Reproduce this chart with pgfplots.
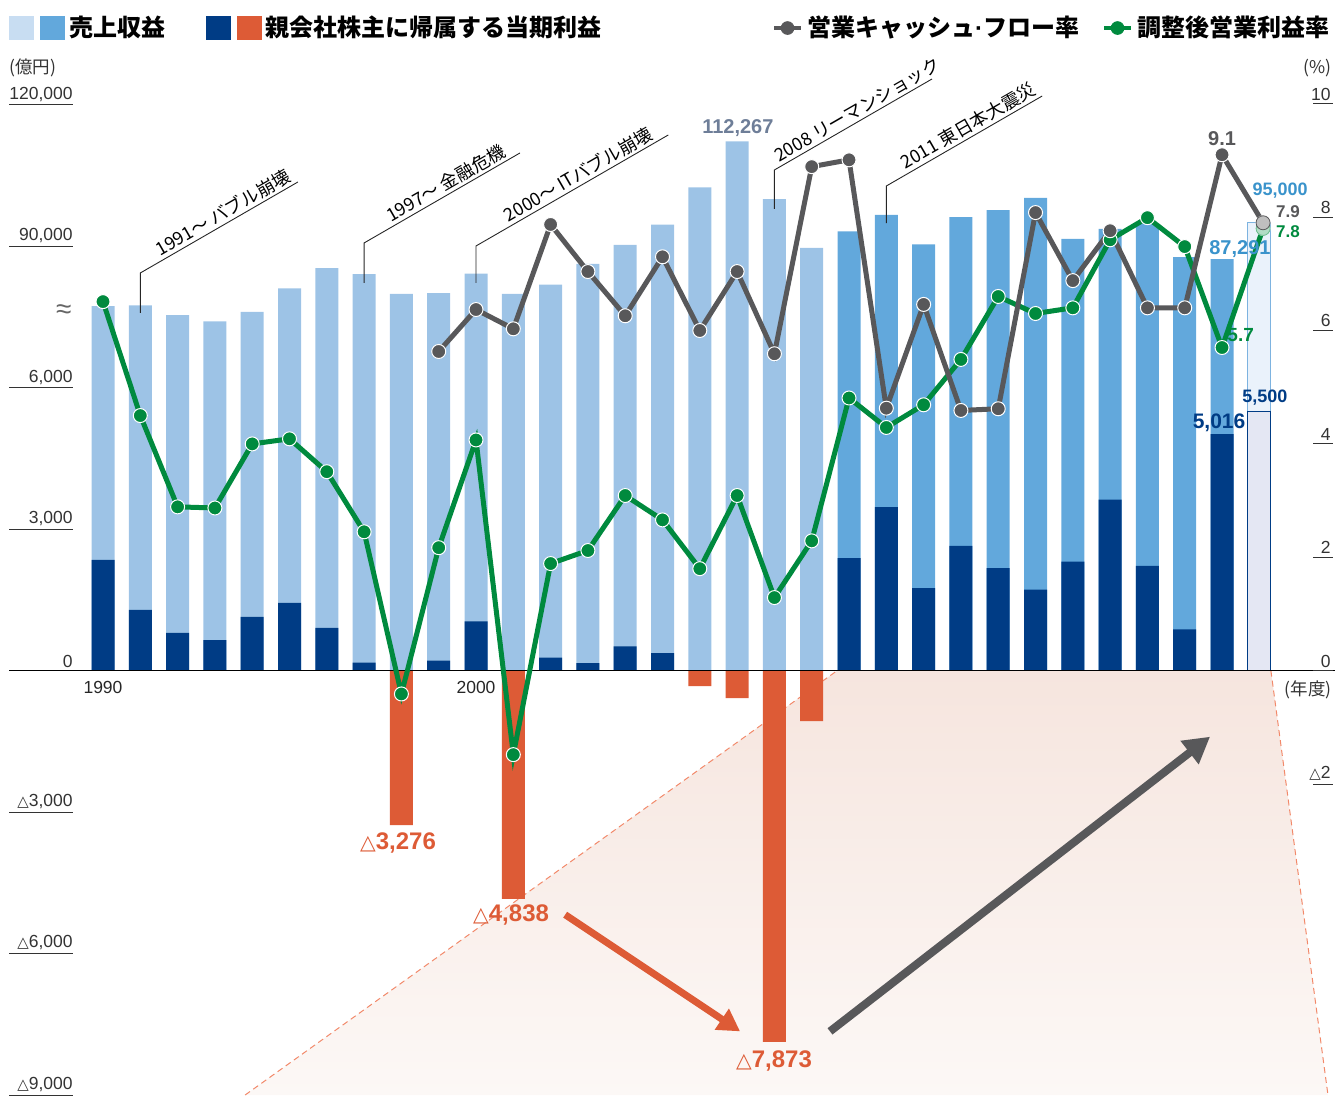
\documentclass[border=0pt]{standalone}
\usepackage{pgfplots}
\usepackage{pgfplotstable}
\pgfplotsset{compat=1.18}
\usetikzlibrary{arrows.meta}
\usepackage{fontspec}
\setmainfont{Liberation Sans}
\newfontfamily\jp{Noto Sans CJK JP}
\newfontfamily\dv{DejaVu Sans}
\newcommand{\tri}{{\dv\fontsize{0.85em}{1em}\selectfont △}}

\definecolor{revL}{HTML}{9DC3E6}
\definecolor{revM}{HTML}{62A8DC}
\definecolor{revF}{HTML}{EAF2FB}
\definecolor{revFo}{HTML}{7DB3E0}
\definecolor{navy}{HTML}{003C85}
\definecolor{orng}{HTML}{DD5B36}
\definecolor{profF}{HTML}{E4E7F3}
\definecolor{gline}{HTML}{58585A}
\definecolor{grn}{HTML}{008A3E}
\definecolor{legL}{HTML}{C8DDF2}
\definecolor{tickc}{HTML}{333333}
\definecolor{slate}{HTML}{6E7E98}
\definecolor{lblue}{HTML}{3A93CB}
\definecolor{shadeT}{HTML}{F6E5DE}
\definecolor{shadeB}{HTML}{FCF8F6}
\definecolor{dashc}{HTML}{F2896A}

\pgfplotstableread{
year rev
1990 77300
1991 77500
1992 75400
1993 74100
1994 76100
1995 81100
1996 85400
1997 84100
1998 79900
1999 80100
2000 84200
2001 79900
2002 81900
2003 86300
2004 90300
2005 94600
2006 102500
2007 112267
2008 100000
2009 89700
2010 93200
2011 96700
2012 90400
2013 96200
2014 97700
2015 100300
2016 91600
2017 93700
2018 94800
2019 87700
2020 87291
2021 95000
}\revtab

\pgfplotstableread{
year prof
1990 2350
1991 1290
1992 800
1993 650
1994 1140
1995 1440
1996 910
1997 170
1998 -3276
1999 212
2000 1044
2001 -4838
2002 279
2003 159
2004 515
2005 373
2006 -328
2007 -581
2008 -7873
2009 -1069
2010 2388
2011 3471
2012 1753
2013 2649
2014 2174
2015 1721
2016 2312
2017 3629
2018 2225
2019 875
2020 5016
2021 5500
}\proftab

\pgfplotstableread{
year cf
1999 5.63
2000 6.37
2001 6.03
2002 7.87
2003 7.04
2004 6.26
2005 7.30
2006 6.00
2007 7.04
2008 5.59
2009 8.89
2010 9.01
2011 4.63
2012 6.46
2013 4.59
2014 4.62
2015 8.08
2016 6.88
2017 7.76
2018 6.40
2019 6.40
2020 9.1
2021.1 7.9
}\cftab

\pgfplotstableread{
year op
1990 6.51
1991 4.50
1992 2.89
1993 2.87
1994 4.00
1995 4.09
1996 3.51
1997 2.45
1998 -0.41
1999 2.17
2000 4.07
2001 -1.48
2002 1.89
2003 2.12
2004 3.09
2005 2.66
2006 1.80
2007 3.09
2008 1.29
2009 2.29
2010 4.81
2011 4.29
2012 4.69
2013 5.49
2014 6.60
2015 6.30
2016 6.40
2017 7.60
2018 7.99
2019 7.48
2020 5.7
2021.1 7.8
}\optab

\begin{document}
\begin{tikzpicture}
\begin{axis}[
  name=main,
  scale only axis, width=667.5pt, height=547.5pt,
  xmin=1987.2386, xmax=2023.029,
  ymin=-9000, ymax=14225,
  clip=false,
  scaled x ticks=false, scaled y ticks=false,
  axis x line*=middle, axis y line*=left,
  axis line style={draw=none},
  major tick length=0pt,
  xtick={1990,2000,2010,2020},
  xticklabels={1990,2000,2010,2020},
  xticklabel style={font=\fontsize{8.75pt}{10pt}\selectfont, text=black!85, yshift=-2pt},
  ytick={-9000,-6000,-3000,0,3000,6000,9000,12000},
  yticklabels={{\tri 9,000},{\tri 6,000},{\tri 3,000},{0},{3,000},{6,000},{90,000},{120,000}},
  yticklabel style={anchor=south east, inner sep=0pt, xshift=36.5pt, yshift=1.5pt, font=\fontsize{8.75pt}{10pt}\selectfont, text=tickc},
  legend style={at={(axis description cs:0.0067,0.9744)}, anchor=west, draw=none, fill=none, inner sep=0pt,
    font=\jp\bfseries\fontsize{12pt}{14pt}\selectfont, legend columns=2,
    /tikz/every even column/.append style={column sep=18.5pt}},
  legend cell align=left,
]
\addlegendimage{legend image code/.code={
  \fill[legL] (0pt,-5.75pt) rectangle (12pt,5.75pt);
  \fill[revM] (15.5pt,-5.75pt) rectangle (27.5pt,5.75pt);}}
\addlegendentry{売上収益}
\addlegendimage{legend image code/.code={
  \fill[navy] (0pt,-5.75pt) rectangle (12pt,5.75pt);
  \fill[orng] (15.5pt,-5.75pt) rectangle (27.5pt,5.75pt);}}
\addlegendentry{親会社株主に帰属する当期利益}

% zoom shading
\shade[top color=shadeT, bottom color=shadeB] (axis cs:1993.81,-9000) -- (axis cs:2009.68,0) -- (axis cs:2021.31,0) -- (axis cs:2022.84,-9000) -- cycle;
\draw[dashc, line width=0.5pt, dash pattern=on 3pt off 2pt] (axis cs:1993.81,-9000) -- (axis cs:2009.68,0);
\draw[dashc, line width=0.5pt, dash pattern=on 3pt off 2pt] (axis cs:2021.31,0) -- (axis cs:2022.84,-9000);

% revenue bars (plotted at 1/10 scale)
\addplot[ybar, bar width=11.5pt, bar shift=0pt, fill=revL, draw=none, forget plot,
  restrict x to domain=1989.5:2009.5] table[x=year, y expr=\thisrow{rev}/10] {\revtab};
\addplot[ybar, bar width=11.5pt, bar shift=0pt, fill=revM, draw=none, forget plot,
  restrict x to domain=2009.5:2020.5] table[x=year, y expr=\thisrow{rev}/10] {\revtab};
\addplot[ybar, bar width=11.5pt, bar shift=0pt, fill=revF, draw=revFo, line width=0.6pt, forget plot,
  restrict x to domain=2020.5:2021.5] table[x=year, y expr=\thisrow{rev}/10] {\revtab};

% profit bars
\addplot[ybar, bar width=11.5pt, bar shift=0pt, fill=navy, draw=none, forget plot,
  restrict x to domain=1989.5:2020.5, restrict y to domain=0:100000] table[x=year, y=prof] {\proftab};
\addplot[ybar, bar width=11.5pt, bar shift=0pt, fill=orng, draw=none, forget plot,
  restrict y to domain=-100000:0] table[x=year, y=prof] {\proftab};
\addplot[ybar, bar width=11.5pt, bar shift=0pt, fill=profF, draw=navy, line width=0.6pt, forget plot,
  restrict x to domain=2020.5:2021.5] table[x=year, y=prof] {\proftab};

% zero line
\draw[black, line width=0.6pt] (axis cs:1987.48,0) -- (axis cs:2023.029,0);

% left tick underlines
\pgfplotsinvokeforeach{-9000,-6000,-3000,3000,6000,9000,12000}{
  \draw[tickc, line width=0.5pt] (axis cs:1987.48,#1) -- (axis cs:1989.196,#1);
}

% event annotations
\tikzset{evt/.style={black!85, line width=0.45pt}, evtxt/.style={pos=0.56, sloped, above, inner sep=1.2pt, font=\jp\fontsize{9pt}{10pt}\selectfont, text=black}}
\draw[evt] (axis cs:1991,7587) -- (axis cs:1991,8435) -- ++(30:91pt) node[evtxt] {1991〜 バブル崩壊};
\draw[evt] (axis cs:1997,8223) -- (axis cs:1997,9072) -- ++(30:90pt) node[evtxt] {1997〜 金融危機};
\draw[evt] (axis cs:2000,8223) -- (axis cs:2000,9008) -- ++(30:111pt) node[evtxt] {2000〜 ITバブル崩壊};
\draw[evt] (axis cs:2008,9793) -- (axis cs:2008,10620) -- ++(30:91pt) node[evtxt] {2008 リーマンショック};
\draw[evt] (axis cs:2011,9495) -- (axis cs:2011,10280) -- ++(30:90pt) node[evtxt] {2011 東日本大震災};

% arrows
\draw[orng, line width=3.5pt, -{Triangle[length=11pt, width=12pt]}] (axis cs:2002.39,-5175) -- (axis cs:2007.08,-7650);
\draw[gline, line width=4pt, -{Triangle[length=13pt, width=14pt]}] (axis cs:2009.49,-7650) -- (axis cs:2019.68,-1400);
\end{axis}

\begin{axis}[
  scale only axis, width=667.5pt, height=547.5pt,
  xmin=1987.2386, xmax=2023.029,
  ymin=-7.483, ymax=11.829,
  clip=false,
  scaled x ticks=false, scaled y ticks=false,
  axis x line=none,
  xtick=\empty,
  axis y line*=right,
  axis line style={draw=none},
  major tick length=0pt,
  ytick={-2,0,2,4,6,8,10},
  yticklabels={{\tri 2},{0},{2},{4},{6},{8},{10}},
  yticklabel style={anchor=south east, inner sep=0pt, xshift=-2pt, yshift=1.5pt, font=\fontsize{8.75pt}{10pt}\selectfont, text=tickc},
  legend style={at={(axis description cs:0.578,0.9744)}, anchor=west, draw=none, fill=none, inner sep=0pt,
    font=\jp\bfseries\fontsize{12pt}{14pt}\selectfont, legend columns=2,
    /tikz/every even column/.append style={column sep=9.5pt}},
  legend cell align=left,
]
\addlegendimage{legend image code/.code={
  \draw[gline, line width=2pt] (0pt,0pt) -- (13.5pt,0pt);
  \fill[gline] (6.75pt,0pt) circle (3.2pt);}}
\addlegendentry{営業キャッシュ{\rmfamily\bfseries ·}フロー率}
\addlegendimage{legend image code/.code={
  \draw[grn, line width=2pt] (0pt,0pt) -- (13.5pt,0pt);
  \fill[grn] (6.75pt,0pt) circle (3.2pt);}}
\addlegendentry{調整後営業利益率}

\addplot[grn, line width=2.5pt, mark=*, mark size=3.5pt, mark options={fill=grn, draw=white, line width=0.5pt}, forget plot]
  table[x=year, y=op] {\optab};
\addplot[gline, line width=2.5pt, mark=*, mark size=3.5pt, mark options={fill=gline, draw=white, line width=0.5pt}, forget plot]
  table[x=year, y=cf] {\cftab};
\addplot[only marks, mark=*, mark size=3.5pt, mark options={fill=grn!30, draw=grn!60}, forget plot] coordinates {(2021.1,7.8)};
\addplot[only marks, mark=*, mark size=3.5pt, mark options={fill=black!25, draw=gline}, forget plot] coordinates {(2021.1,7.9)};

% right tick underlines
\pgfplotsinvokeforeach{-2,0,2,4,6,8,10}{
  \draw[tickc, line width=0.5pt] (axis cs:2022.44,#1) -- (axis cs:2022.97,#1);
}

% unit labels
\node[anchor=west, inner sep=0pt, font=\jp\fontsize{8.75pt}{10pt}\selectfont, text=tickc] at (axis cs:1987.48,10.63) {(億円)};
\node[anchor=east, inner sep=0pt, font=\jp\fontsize{8.75pt}{10pt}\selectfont, text=tickc] at (axis cs:2022.95,10.63) {(\%)};
\node[anchor=east, inner sep=0pt, font=\jp\fontsize{8.75pt}{10pt}\selectfont, text=tickc] at (axis cs:2022.95,-0.33) {(年度)};
\node[font=\fontsize{14pt}{16pt}\selectfont, text=black!60] at (axis cs:1988.95,6.33) {≈};

% data labels
\node[font=\bfseries\fontsize{10pt}{12pt}\selectfont, text=slate] at (axis cs:2007.02,9.57) {112,267};
\node[font=\bfseries\fontsize{9pt}{11pt}\selectfont, text=lblue] at (axis cs:2021.56,8.47) {95,000};
\node[font=\bfseries\fontsize{10pt}{12pt}\selectfont, text=lblue] at (axis cs:2020.48,7.44) {87,291};
\node[font=\bfseries\fontsize{9pt}{11pt}\selectfont, text=navy] at (axis cs:2021.15,4.81) {5,500};
\node[font=\bfseries\fontsize{10.5pt}{12pt}\selectfont, text=navy] at (axis cs:2019.92,4.37) {5,016};
\node[font=\bfseries\fontsize{10pt}{12pt}\selectfont, text=gline] at (axis cs:2020.0,9.39) {9.1};
\node[font=\bfseries\fontsize{8.5pt}{10pt}\selectfont, text=gline] at (axis cs:2021.77,8.09) {7.9};
\node[font=\bfseries\fontsize{8.5pt}{10pt}\selectfont, text=grn] at (axis cs:2021.77,7.75) {7.8};
\node[font=\bfseries\fontsize{9.5pt}{11pt}\selectfont, text=grn] at (axis cs:2020.5,5.92) {5.7};
\node[font=\bfseries\fontsize{12pt}{14pt}\selectfont, text=orng] at (axis cs:1997.91,-3.04) {\tri 3,276};
\node[font=\bfseries\fontsize{12pt}{14pt}\selectfont, text=orng] at (axis cs:2000.94,-4.31) {\tri 4,838};
\node[font=\bfseries\fontsize{12pt}{14pt}\selectfont, text=orng] at (axis cs:2007.99,-6.89) {\tri 7,873};
\end{axis}
\pgfresetboundingbox
\path[use as bounding box] (main.south west) rectangle (main.north east);
\end{tikzpicture}
\end{document}
